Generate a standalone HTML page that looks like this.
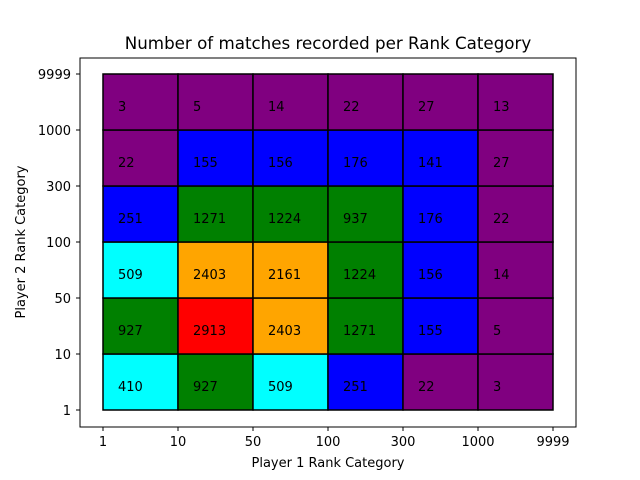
<!DOCTYPE html>
<html><head><meta charset="utf-8"><style>
body{margin:0;background:#fff;}
svg{display:block;font-family:"DejaVu Sans","Liberation Sans",sans-serif;}
</style></head><body>
<svg id="chart" width="640" height="480" viewBox="0 0 640 480">
<rect width="640" height="480" fill="#fff"/>
<text x="328" y="49" font-size="16.7" text-anchor="middle">Number of matches recorded per Rank Category</text>
<rect x="80" y="58" width="496" height="369" fill="none" stroke="#000" stroke-width="1"/>
<g id="cells"></g>
<g id="xticks"></g>
<g id="yticks"></g>
<text x="328" y="467" font-size="13" text-anchor="middle">Player 1 Rank Category</text>
<text x="25" y="242" font-size="13" text-anchor="middle" transform="rotate(-90 25 242)">Player 2 Rank Category</text>
</svg>
<script>
const xLabels=["1","10","50","100","300","1000","9999"];
const yLabels=["1","10","50","100","300","1000","9999"];
// rows from bottom (y index 0) to top
const row0=[410,927,509,251,22,3];
const row1=[927,2913,2403,1271,155,5];
const row2=[509,2403,2161,1224,156,14];
const row3=[251,1271,1224,937,176,22];
const row4=[22,155,156,176,141,27];
const row5=[3,5,14,22,27,13];
const rows=[row0,row1,row2,row3,row4,row5];
const NS="http://www.w3.org/2000/svg";
const x0=103,cw=75,y0=410,ch=56;
function xs(i){return x0+i*cw;}
function ys(j){return y0-j*ch;}
function color(v){if(v<100)return"#800080";if(v<300)return"#0000ff";if(v<600)return"#00ffff";if(v<1500)return"#008000";if(v<2500)return"#ffa500";return"#ff0000";}
const cells=document.getElementById('cells');
rows.forEach((r,j)=>r.forEach((v,i)=>{
 const rc=document.createElementNS(NS,'rect');
 rc.setAttribute('x',xs(i));rc.setAttribute('y',ys(j+1));
 rc.setAttribute('width',cw);rc.setAttribute('height',ch);
 rc.setAttribute('fill',color(v));rc.setAttribute('stroke','#000');rc.setAttribute('stroke-width','1.5');
 
 
 cells.appendChild(rc);
 const t=document.createElementNS(NS,'text');
 t.setAttribute('x',xs(i)+15);t.setAttribute('y',ys(j)-ch/2+9);
 t.setAttribute('font-size','13');t.textContent=v;
 
 
 cells.appendChild(t);
}));
const xt=document.getElementById('xticks');
xLabels.forEach((l,i)=>{
 const ln=document.createElementNS(NS,'line');
 ln.setAttribute('x1',xs(i));ln.setAttribute('x2',xs(i));ln.setAttribute('y1',427);ln.setAttribute('y2',431);ln.setAttribute('stroke','#000');
 
 
 xt.appendChild(ln);
 const t=document.createElementNS(NS,'text');
 t.setAttribute('x',xs(i));t.setAttribute('y',446);t.setAttribute('font-size','13');t.setAttribute('text-anchor','middle');t.textContent=l;
 
 
 xt.appendChild(t);
});
const yt=document.getElementById('yticks');
yLabels.forEach((l,j)=>{
 const ln=document.createElementNS(NS,'line');
 ln.setAttribute('x1',76);ln.setAttribute('x2',80);ln.setAttribute('y1',ys(j));ln.setAttribute('y2',ys(j));ln.setAttribute('stroke','#000');
 
 
 yt.appendChild(ln);
 const t=document.createElementNS(NS,'text');
 t.setAttribute('x',71);t.setAttribute('y',ys(j)+5);t.setAttribute('font-size','13');t.setAttribute('text-anchor','end');t.textContent=l;
 
 
 yt.appendChild(t);
});
</script>
</body></html>
